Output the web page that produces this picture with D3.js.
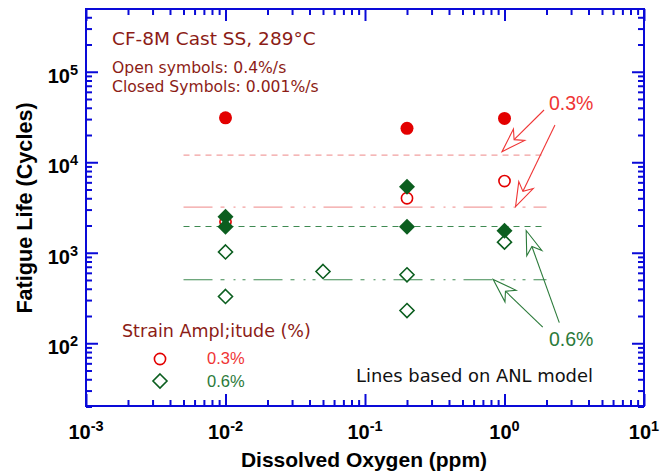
<!DOCTYPE html>
<html><head><meta charset="utf-8">
<script src="https://cdn.jsdelivr.net/npm/d3@7"></script>
<style>body{margin:0;background:#fff}svg{display:block}</style>
</head><body>
<svg id="c" width="660" height="474"></svg>
<script>
// ---------- data ----------
const xTickPowers = [-3, -2, -1, 0, 1];
const yTickPowers = [2, 3, 4, 5];
// 0.3% strain amplitude
const red03ClosedX = [0.01, 0.2, 1];
const red03ClosedY = [31000, 23700, 30500];
const red03OpenX = [0.01, 0.2, 1];
const red03OpenY = [2200, 4000, 6200];
// 0.6% strain amplitude
const grn06ClosedX = [0.01, 0.01, 0.2, 0.2, 1];
const grn06ClosedY = [2500, 1940, 5370, 1940, 1750];
const grn06OpenX = [0.01, 0.01, 0.05, 0.2, 0.2, 1];
const grn06OpenY = [1020, 329, 621, 571, 230, 1310];
// ANL model lines
const modelNames = ["0.3% slow", "0.3% fast", "0.6% slow", "0.6% fast"];
const modelLife = [12000, 3200, 1950, 503];
const modelDO = [0.005, 2];
// annotation arrows (tail -> tip), data coordinates
const arrowTailsRed = [[1.92, 37800], [2.30, 25800]];
const arrowTipsRed = [[0.96, 13100], [1.20, 3230]];
const arrowTailsGrn = [[1.88, 151], [2.47, 169]];
const arrowTipsGrn = [[0.83, 507], [1.43, 1760]];

// ---------- setup ----------
const svg = d3.select("#c");
const L = 86, R = 644, T = 9, B = 406;
const x = d3.scaleLog().domain([1e-3, 10]).range([L, R]);
const y = d3.scaleLog().domain([20, 5e5]).range([406.5, 8.5]);

const BLUE = "#0a0ad8";
const DARKRED = "#8c1c16";
const RED = "#e30000";
const LRED = "#ef3535";
const PINK = "#f2a0a0";
const GREEN = "#0b5e1f";
const LGREEN = "#3f8a52";
const TGREEN = "#2b7a3a";
const FONT = "'Liberation Sans', Arial, sans-serif";
const WFONT = "'DejaVu Sans', Verdana, sans-serif";

// minor ticks
const xMinor = [], yMinor = [];
for (let e = -3; e <= 0; e++) for (let m = 2; m <= 9; m++) xMinor.push(m * Math.pow(10, e));
for (let e = 1; e <= 5; e++) for (let m = 2; m <= 9; m++) { const v = m * Math.pow(10, e); if (v >= 20 && v <= 5e5) yMinor.push(v); }
const xMajor = xTickPowers.map(p => Math.pow(10, p));
const yMajor = yTickPowers.map(p => Math.pow(10, p));

function styleAxis(g) {
  g.select(".domain").remove();
  g.selectAll(".tick line").attr("stroke", BLUE).attr("stroke-width", 2);
  g.selectAll(".tick text").remove();
}
const axes = [
  [d3.axisBottom, x, `translate(0,${B})`, xMinor, xMajor],
  [d3.axisTop, x, `translate(0,${T})`, xMinor, xMajor],
  [d3.axisLeft, y, `translate(${L},0)`, yMinor, yMajor],
  [d3.axisRight, y, `translate(${R},0)`, yMinor, yMajor]
];
axes.forEach(([fn, sc, tr, mi, ma]) => {
  svg.append("g").attr("transform", tr).call(fn(sc).tickValues(mi).tickSize(-6).tickFormat("")).call(styleAxis);
  svg.append("g").attr("transform", tr).call(fn(sc).tickValues(ma).tickSize(-12).tickFormat("")).call(styleAxis);
});
svg.append("rect").attr("x", L).attr("y", T).attr("width", R - L).attr("height", B - T)
  .attr("fill", "none").attr("stroke", BLUE).attr("stroke-width", 2);

// tick labels
function powLabel(sel, p) {
  sel.append("tspan").text("10");
  sel.append("tspan").attr("dy", -8).attr("font-size", 14.5).text(String(p));
}
xTickPowers.forEach(p => {
  const t = svg.append("text").attr("x", x(Math.pow(10, p))).attr("y", 439)
    .attr("text-anchor", "middle").attr("font-family", FONT).attr("font-size", 20).attr("font-weight", "bold");
  powLabel(t, p);
});
yTickPowers.forEach(p => {
  const t = svg.append("text").attr("x", 78).attr("y", y(Math.pow(10, p)) + 11)
    .attr("text-anchor", "end").attr("font-family", FONT).attr("font-size", 20).attr("font-weight", "bold");
  powLabel(t, p);
});

// axis titles
svg.append("text").attr("x", 364).attr("y", 467).attr("text-anchor", "middle")
  .attr("font-family", FONT).attr("font-size", 21).attr("font-weight", "bold").text("Dissolved Oxygen (ppm)");
svg.append("text").attr("transform", `translate(32,208) rotate(-90)`).attr("text-anchor", "middle")
  .attr("font-family", FONT).attr("font-size", 21.6).attr("font-weight", "bold").text("Fatigue Life (Cycles)");

// model lines
const dashes = ["6,5", "29,8,4,9,2,7,3,8", "6,5", "29,8,4,9,2,7,3,8"];
const lineColors = [PINK, PINK, LGREEN, LGREEN];
modelLife.forEach((v, i) => {
  svg.append("line").attr("x1", x(modelDO[0])).attr("x2", x(modelDO[1]))
    .attr("y1", y(v)).attr("y2", y(v))
    .attr("stroke", lineColors[i]).attr("stroke-width", 1.2).attr("stroke-dasharray", dashes[i]);
});

// markers
function diamondPath(h) { return `M0,${-h}L${h},0L0,${h}L${-h},0Z`; }
const zip = (a, b) => a.map((v, i) => [v, b[i]]);

svg.append("g").selectAll("circle").data(zip(red03OpenX, red03OpenY)).join("circle")
  .attr("cx", d => x(d[0])).attr("cy", d => y(d[1])).attr("r", 5.6)
  .attr("fill", "white").attr("stroke", RED).attr("stroke-width", 1.6);
svg.append("g").selectAll("path").data(zip(grn06OpenX, grn06OpenY)).join("path")
  .attr("transform", d => `translate(${x(d[0])},${y(d[1])})`).attr("d", diamondPath(7))
  .attr("fill", "white").attr("stroke", GREEN).attr("stroke-width", 1.6);
svg.append("g").selectAll("circle").data(zip(red03ClosedX, red03ClosedY)).join("circle")
  .attr("cx", d => x(d[0])).attr("cy", d => y(d[1])).attr("r", 6.5).attr("fill", RED);
svg.append("g").selectAll("path").data(zip(grn06ClosedX, grn06ClosedY)).join("path")
  .attr("transform", d => `translate(${x(d[0])},${y(d[1])})`).attr("d", diamondPath(8))
  .attr("fill", GREEN);

// arrows
function arrow(tail, tip, color) {
  const x0 = x(tail[0]), y0 = y(tail[1]), x1 = x(tip[0]), y1 = y(tip[1]);
  const dx = x0 - x1, dy = y0 - y1, len = Math.hypot(dx, dy);
  const ux = dx / len, uy = dy / len, px = -uy, py = ux;
  const hl = 24, hw = 8, nl = 17;
  const b1 = [x1 + ux * hl + px * hw, y1 + uy * hl + py * hw];
  const b2 = [x1 + ux * hl - px * hw, y1 + uy * hl - py * hw];
  const n = [x1 + ux * nl, y1 + uy * nl];
  svg.append("line").attr("x1", n[0]).attr("y1", n[1]).attr("x2", x0).attr("y2", y0)
    .attr("stroke", color).attr("stroke-width", 1.1);
  svg.append("path").attr("d", `M${x1},${y1}L${b1}L${n}L${b2}Z`)
    .attr("fill", "white").attr("stroke", color).attr("stroke-width", 1.1);
}
arrowTailsRed.forEach((t, i) => arrow(t, arrowTipsRed[i], LRED));
arrowTailsGrn.forEach((t, i) => arrow(t, arrowTipsGrn[i], TGREEN));

// annotation texts
function txt(xp, yp, s, size, color, font) {
  return svg.append("text").attr("x", xp).attr("y", yp).attr("font-family", font || WFONT)
    .attr("font-size", size).attr("fill", color).text(s);
}
txt(112, 45, "CF-8M Cast SS, 289°C", 18.5, DARKRED);
txt(112, 73, "Open symbols: 0.4%/s", 15.6, DARKRED);
txt(112, 92, "Closed Symbols: 0.001%/s", 15.6, DARKRED);
txt(549, 110, "0.3%", 19.5, LRED, FONT);
txt(549, 346, "0.6%", 19.5, TGREEN, FONT);
txt(356, 382, "Lines based on ANL model", 17.9, "#111");

// legend
txt(122, 337, "Strain Ampl;itude (%)", 17.5, DARKRED);
svg.append("circle").attr("cx", 160).attr("cy", 359).attr("r", 5.6)
  .attr("fill", "white").attr("stroke", RED).attr("stroke-width", 1.6);
txt(207, 364, "0.3%", 16.5, LRED, FONT);
svg.append("path").attr("transform", "translate(160,381)").attr("d", diamondPath(7))
  .attr("fill", "white").attr("stroke", GREEN).attr("stroke-width", 1.6);
txt(207, 387, "0.6%", 16.5, TGREEN, FONT);
</script>
</body></html>
